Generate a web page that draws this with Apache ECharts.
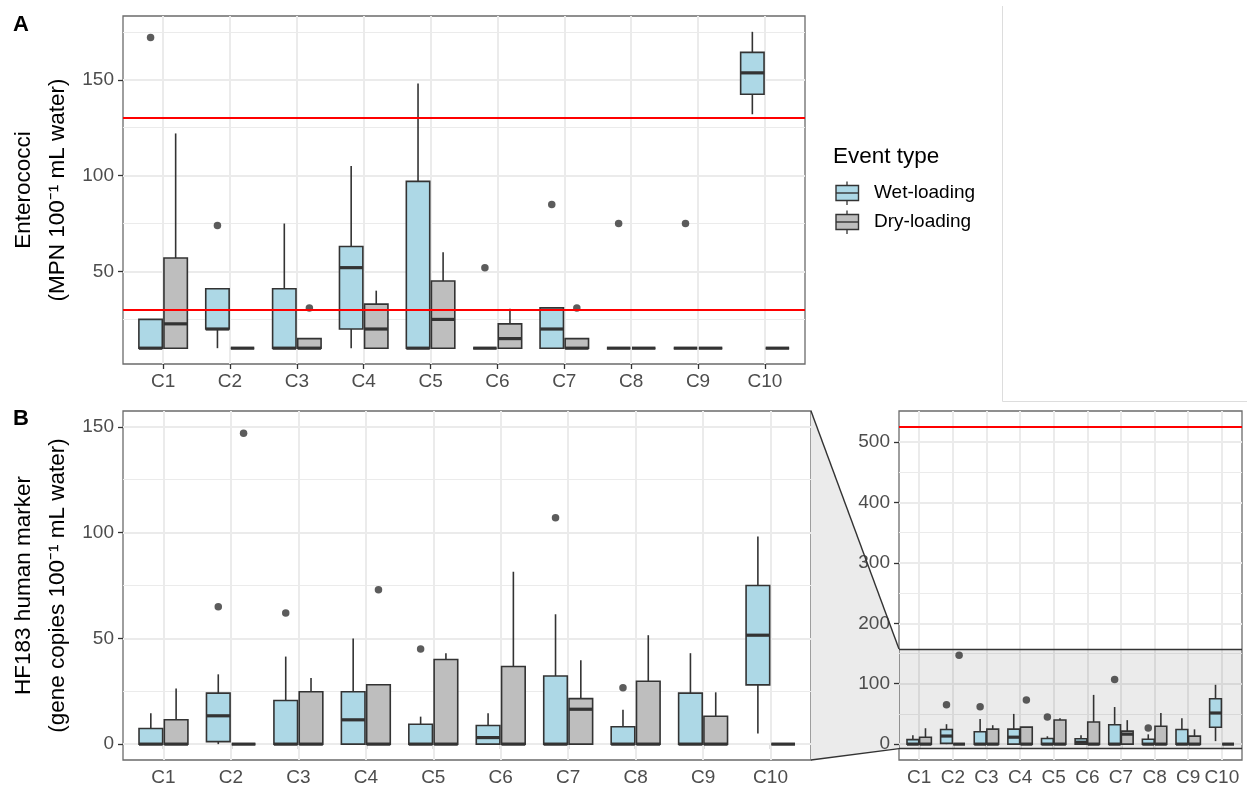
<!DOCTYPE html>
<html><head><meta charset="utf-8">
<script src="https://cdn.jsdelivr.net/npm/echarts@6/dist/echarts.min.js"></script>
<style>html,body{margin:0;padding:0;background:#fff}#c{width:1247px;height:787px}</style>
</head><body><div id="c"></div>
<script>
// ---------------- data ----------------
const categories = ['C1','C2','C3','C4','C5','C6','C7','C8','C9','C10'];
// Panel A: Enterococci  [lowerWhisker, Q1, median, Q3, upperWhisker]
const entWet = [
  [10,10,10,25,25],[10,20,20,41,41],[10,10,10,41,75],[10,20,52,63,105],[10,10,10,97,148],
  [10,10,10,10,10],[10,10,20,31,31],[10,10,10,10,10],[10,10,10,10,10],[132,142.4,153.6,164.3,175]
];
const entDry = [
  [10,10,22.7,57,122],[10,10,10,10,10],[10,10,10,15,15],[10,10,20,33,40],[10,10,25,45,60],
  [10,10,15,22.7,30.6],[10,10,10,15,15],[10,10,10,10,10],[10,10,10,10,10],[10,10,10,10,10]
];
const entWetOutliers = [[1,172],[2,74],[6,52],[7,85],[8,75],[9,75]];
const entDryOutliers = [[3,31],[7,31]];
const entThresholds = [30,130];
// Panel B: HF183 human marker
const hfWet = [
  [0,0,0,7.4,14.6],[0,1.2,13.4,24.1,33],[0,0,0,20.6,41.4],[0,0,11.5,24.8,50],[0,0,0,9.4,13],
  [0,0,3.1,8.8,14.6],[0,0,0,32.2,61.4],[0,0,0,8.2,16.2],[0,0,0,24.1,43],[5,28,51.5,75,98.2]
];
const hfDry = [
  [0,0,0,11.5,26.3],[0,0,0,0,0],[0,0,0,24.8,31.3],[0,0,0,28.1,28.1],[0,0,0,40,43],
  [0,0,0,36.7,81.5],[0,0,16.5,21.5,39.7],[0,0,0,29.7,51.5],[0,0,0,13.2,24.5],[0,0,0,0,0]
];
const hfWetOutliers = [[2,65],[3,62],[5,45],[7,107],[8,26.6]];
const hfDryOutliers = [[2,147],[4,73]];
const hfThresholds = [525];
// ticks / ranges
const xTicks = [1,2,3,4,5,6,7,8,9,10];
const xRange = [0.4, 10.6];
const entTicks = [50,100,150], entMinor = [25,75,125,175], entRange = [1.75,183.25];
const hfTicks = [0,50,100,150], hfMinor = [25,75,125], hfZoomRange = [-7.5,157.5];
const insetTicks = [0,100,200,300,400,500], insetMinor = [50,150,250,350,450], hfFullRange = [-26.25,551.25];

// ---------------- style ----------------
const FONT = 'Liberation Sans';
const WET = '#ADD8E6', DRY = '#BEBEBE', INK = '#333333';
const DODGE = 0.1875, HALF = 0.175;

const chart = echarts.init(document.getElementById('c'), null, {renderer:'canvas'});

const grids = [
  {left:123, top:16, width:682, height:348},
  {left:123, top:411, width:688, height:349},
  {left:899, top:411, width:343, height:349}
].map(g => Object.assign({show:true, borderColor:'#6b6b6b', borderWidth:1.3, backgroundColor:'transparent'}, g));

function xAxis(i){
  return {type:'value', gridIndex:i, min:xRange[0], max:xRange[1],
    axisLine:{show:false}, splitLine:{show:false},
    axisTick:{show:true, customValues:xTicks, length:5, lineStyle:{color:INK, width:1.3}},
    axisLabel:{customValues:xTicks, margin:8, fontSize:19, fontFamily:FONT, color:'#4D4D4D',
      formatter:v => categories[Math.round(v)-1]}};
}
function yAxis(i, range, ticks){
  return {type:'value', gridIndex:i, min:range[0], max:range[1],
    axisLine:{show:false}, splitLine:{show:false},
    axisTick:{show:true, customValues:ticks, length:5, lineStyle:{color:INK, width:1.3}},
    axisLabel:{customValues:ticks, margin:9, fontSize:19, fontFamily:FONT, color:'#4D4D4D'}};
}

function boxRender(offset, fill){
  return function(params, api){
    const x = api.value(0) + offset;
    const lo = api.value(1), q1 = api.value(2), md = api.value(3), q3 = api.value(4), hi = api.value(5);
    const a = api.coord([x-HALF, q1]), b = api.coord([x+HALF, q3]);
    const m1 = api.coord([x-HALF, md]), m2 = api.coord([x+HALF, md]);
    const pl = api.coord([x, lo]), ph = api.coord([x, hi]);
    return {type:'group', children:[
      {type:'line', shape:{x1:ph[0], y1:ph[1], x2:ph[0], y2:b[1]}, style:{stroke:INK, lineWidth:1.6}},
      {type:'line', shape:{x1:pl[0], y1:pl[1], x2:pl[0], y2:a[1]}, style:{stroke:INK, lineWidth:1.6}},
      {type:'rect', shape:{x:a[0], y:b[1], width:b[0]-a[0], height:a[1]-b[1]}, style:{fill:fill, stroke:INK, lineWidth:1.6}},
      {type:'line', shape:{x1:m1[0], y1:m1[1], x2:m2[0], y2:m2[1]}, style:{stroke:INK, lineWidth:3.2}}
    ]};
  };
}
function boxSeries(i, name, stats, offset, fill){
  return {type:'custom', name:name, xAxisIndex:i, yAxisIndex:i, z:3,
    renderItem:boxRender(offset, fill),
    encode:{x:0, y:[1,2,3,4,5]},
    data: stats.map((s, k) => [k+1].concat(s))};
}
function outlierSeries(i, pts, offset){
  return {type:'scatter', xAxisIndex:i, yAxisIndex:i, z:4, symbolSize:7.5, silent:true,
    itemStyle:{color:INK}, data: pts.map(p => [p[0]+offset, p[1]])};
}
function gridSeries(i, major, minor){
  const d = [];
  minor.forEach(v => d.push({yAxis:v, lineStyle:{width:1}}));
  major.forEach(v => d.push({yAxis:v, lineStyle:{width:2}}));
  xTicks.forEach(v => d.push({xAxis:v, lineStyle:{width:2}}));
  return {type:'line', xAxisIndex:i, yAxisIndex:i, data:[], z:1, silent:true,
    markLine:{silent:true, z:1, symbol:'none', animation:false, label:{show:false},
      lineStyle:{color:'#EBEBEB', type:'solid'}, data:d}};
}
function redSeries(i, vals){
  return {type:'line', xAxisIndex:i, yAxisIndex:i, data:[], z:5, silent:true,
    markLine:{silent:true, z:5, symbol:'none', animation:false, label:{show:false},
      lineStyle:{color:'#FF0000', width:1.8, type:'solid'}, data: vals.map(v => ({yAxis:v}))}};
}

const series = [
  gridSeries(0, entTicks, entMinor),
  gridSeries(1, hfTicks, hfMinor),
  gridSeries(2, insetTicks, insetMinor),
  // zoom shading in inset
  {type:'line', xAxisIndex:2, yAxisIndex:2, data:[], z:2, silent:true,
    markArea:{silent:true, z:2, itemStyle:{color:'rgba(0,0,0,0.08)'},
      data:[[{xAxis:xRange[0], yAxis:hfZoomRange[0]},{xAxis:xRange[1], yAxis:hfZoomRange[1]}]]},
    markLine:{silent:true, z:2, symbol:'none', label:{show:false},
      lineStyle:{color:INK, width:1.3, type:'solid'}, data: hfZoomRange.map(v => ({yAxis:v}))}},
  boxSeries(0, 'Wet-loading', entWet, -DODGE, WET),
  boxSeries(0, 'Dry-loading', entDry, DODGE, DRY),
  outlierSeries(0, entWetOutliers, -DODGE),
  outlierSeries(0, entDryOutliers, DODGE),
  redSeries(0, entThresholds),
  boxSeries(1, 'Wet-loading', hfWet, -DODGE, WET),
  boxSeries(1, 'Dry-loading', hfDry, DODGE, DRY),
  outlierSeries(1, hfWetOutliers, -DODGE),
  outlierSeries(1, hfDryOutliers, DODGE),
  boxSeries(2, 'Wet-loading', hfWet, -DODGE, WET),
  boxSeries(2, 'Dry-loading', hfDry, DODGE, DRY),
  outlierSeries(2, hfWetOutliers, -DODGE),
  outlierSeries(2, hfDryOutliers, DODGE),
  redSeries(2, hfThresholds)
];

chart.setOption({
  animation:false,
  backgroundColor:'#ffffff',
  grid:grids,
  xAxis:[xAxis(0), xAxis(1), xAxis(2)],
  yAxis:[yAxis(0, entRange, entTicks), yAxis(1, hfZoomRange, hfTicks), yAxis(2, hfFullRange, insetTicks)],
  series:series
});

// ---------------- annotations (titles, legend, zoom connector) ----------------
const pTop = chart.convertToPixel({gridIndex:1}, [xRange[1], hfZoomRange[1]]);
const pBot = chart.convertToPixel({gridIndex:1}, [xRange[1], hfZoomRange[0]]);
const qTop = chart.convertToPixel({gridIndex:2}, [xRange[0], hfZoomRange[1]]);
const qBot = chart.convertToPixel({gridIndex:2}, [xRange[0], hfZoomRange[0]]);

function legendKey(y, fill){
  return [
    {type:'line', shape:{x1:847, y1:y-11.5, x2:847, y2:y+12}, style:{stroke:INK, lineWidth:1.3}},
    {type:'rect', shape:{x:836, y:y-7.5, width:22.5, height:15}, style:{fill:fill, stroke:INK, lineWidth:1.4}},
    {type:'line', shape:{x1:836, y1:y, x2:858.5, y2:y}, style:{stroke:INK, lineWidth:1.4}}
  ];
}
const txt = (x, y, text, size, extra) => Object.assign({type:'text', x:x, y:y,
  style:Object.assign({text:text, fontSize:size, fontFamily:FONT, fill:'#000', textAlign:'left', textVerticalAlign:'middle'}, extra||{})});

chart.setOption({graphic:[
  {type:'polygon', z:0, shape:{points:[pTop, qTop, qBot, pBot]}, style:{fill:'#EBEBEB'}},
  {type:'line', z:10, shape:{x1:pTop[0], y1:pTop[1], x2:qTop[0], y2:qTop[1]}, style:{stroke:INK, lineWidth:1.4}},
  {type:'line', z:10, shape:{x1:pBot[0], y1:pBot[1], x2:qBot[0], y2:qBot[1]}, style:{stroke:INK, lineWidth:1.4}},
  {type:'polyline', z:0, shape:{points:[[1002.5,6],[1002.5,401.5],[1250,401.5]]}, style:{stroke:'#DDDDDD', lineWidth:1, fill:null}},
  txt(13, 24.5, 'A', 22, {fontWeight:'bold'}),
  txt(13, 418.5, 'B', 22, {fontWeight:'bold'}),
  Object.assign(txt(41, 190, 'Enterococci\n(MPN 100\u207B\u00B9 mL water)', 22.5, {textAlign:'center', lineHeight:34}), {rotation:Math.PI/2}),
  Object.assign(txt(41, 585.5, 'HF183 human marker\n(gene copies 100\u207B\u00B9 mL water)', 22.5, {textAlign:'center', lineHeight:34}), {rotation:Math.PI/2}),
  txt(833, 157, 'Event type', 22.5),
  ...legendKey(193, WET),
  ...legendKey(222, DRY),
  txt(874, 193, 'Wet-loading', 19),
  txt(874, 222, 'Dry-loading', 19)
]});
</script></body></html>
